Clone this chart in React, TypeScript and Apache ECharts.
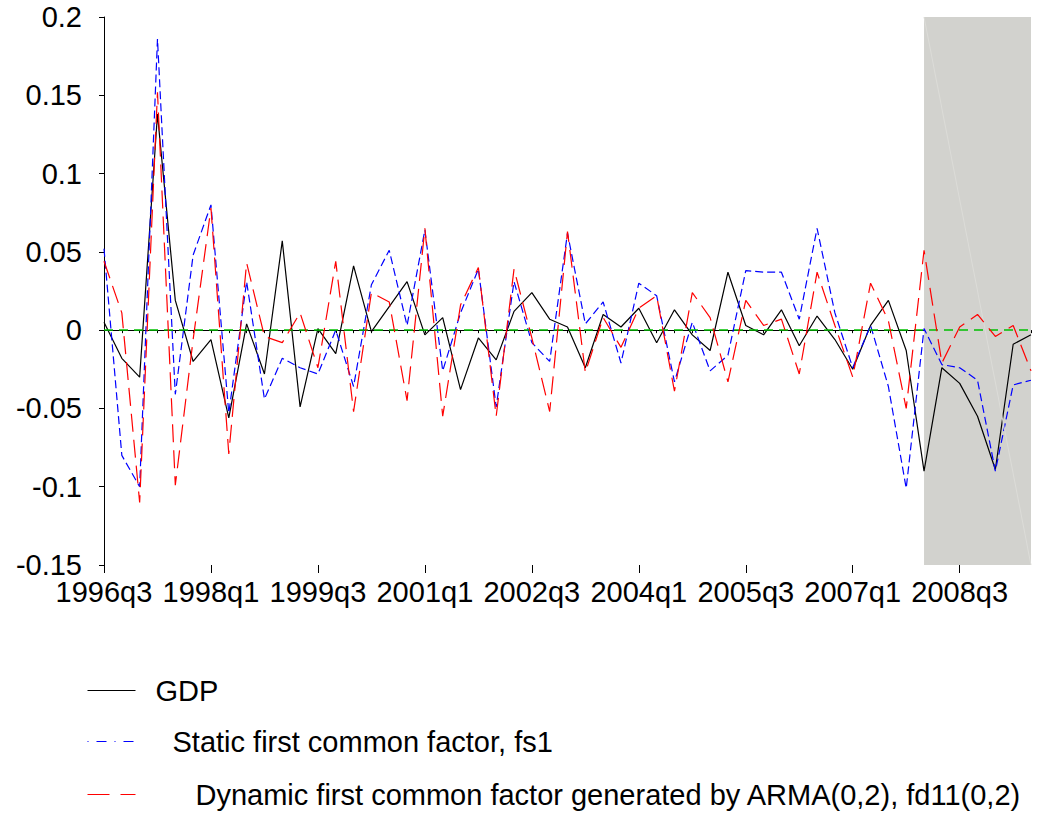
import React, { useEffect, useRef } from 'react';
import * as echarts from 'echarts';

const quarters = [
  '1996q3', '1996q4',
  '1997q1', '1997q2', '1997q3', '1997q4',
  '1998q1', '1998q2', '1998q3', '1998q4',
  '1999q1', '1999q2', '1999q3', '1999q4',
  '2000q1', '2000q2', '2000q3', '2000q4',
  '2001q1', '2001q2', '2001q3', '2001q4',
  '2002q1', '2002q2', '2002q3', '2002q4',
  '2003q1', '2003q2', '2003q3', '2003q4',
  '2004q1', '2004q2', '2004q3', '2004q4',
  '2005q1', '2005q2', '2005q3', '2005q4',
  '2006q1', '2006q2', '2006q3', '2006q4',
  '2007q1', '2007q2', '2007q3', '2007q4',
  '2008q1', '2008q2', '2008q3', '2008q4',
  '2009q1', '2009q2', '2009q3',
];

const gdp = [
  0.005, -0.018, -0.030, 0.138, 0.019, -0.020, -0.006, -0.056, 0.004, -0.028,
  0.057, -0.049, 0.001, -0.015, 0.041, -0.001, 0.015, 0.031, -0.003, 0.008,
  -0.038, -0.005, -0.019, 0.012, 0.024, 0.007, 0.002, -0.024, 0.010, 0.002,
  0.014, -0.008, 0.013, -0.003, -0.013, 0.037, 0.003, -0.003, 0.013, -0.010,
  0.009, -0.006, -0.025, 0.003, 0.019, -0.013, -0.090, -0.024, -0.034, -0.055,
  -0.089, -0.009, -0.003,
];

const fs1 = [
  0.052, -0.080, -0.100, 0.186, -0.041, 0.048, 0.080, -0.053, 0.031, -0.044,
  -0.018, -0.024, -0.028, 0.000, -0.036, 0.029, 0.051, 0.003, 0.064, -0.026,
  0.011, 0.039, -0.049, 0.031, -0.008, -0.020, 0.062, 0.004, 0.018, -0.021,
  0.030, 0.022, -0.033, 0.005, -0.026, -0.016, 0.038, 0.037, 0.037, 0.007,
  0.065, 0.011, -0.024, 0.003, -0.036, -0.101, 0.001, -0.022, -0.024, -0.032,
  -0.090, -0.035, -0.032,
];

const fd11 = [
  0.044, 0.011, -0.110, 0.152, -0.099, -0.006, 0.078, -0.079, 0.043, -0.004,
  -0.008, 0.011, -0.024, 0.044, -0.052, 0.024, 0.018, -0.045, 0.065, -0.055,
  0.016, 0.040, -0.055, 0.039, -0.005, -0.052, 0.063, -0.027, 0.008, -0.011,
  0.014, 0.022, -0.039, 0.024, 0.008, -0.033, 0.019, 0.003, 0.007, -0.028,
  0.037, 0.003, -0.030, 0.030, 0.006, -0.050, 0.051, -0.021, 0.002, 0.010,
  -0.004, 0.003, -0.026,
];

const seriesNames = [
  'GDP',
  'Static first common factor, fs1',
  'Dynamic first common factor generated by ARMA(0,2), fd11(0,2)',
];

const shadeStart = '2008q1';
const shadeEnd = '2009q3';
const yMin = -0.15;
const yMax = 0.2;
const yStep = 0.05;

export default function App() {
  const ref = useRef<HTMLDivElement>(null);

  useEffect(() => {
    const chart = echarts.init(ref.current!, null, { renderer: 'svg' });
    const font = "'Liberation Sans', Arial, Helvetica, sans-serif";
    const fs = 29;

    const legendBase = {
      left: 87,
      itemWidth: 48,
      itemHeight: 14,
      padding: 0,
      selectedMode: false,
      itemStyle: { opacity: 0, borderWidth: 0 },
    };

    chart.setOption({
      animation: false,
      backgroundColor: '#ffffff',
      grid: { left: 104, right: 8, top: 17, bottom: 248, containLabel: false },
      legend: [
        {
          ...legendBase,
          top: 676,
          data: [seriesNames[0]],
          lineStyle: { type: 'solid', width: 1, color: '#000000' },
          textStyle: { fontSize: fs, color: '#000', fontFamily: font, padding: [0, 0, 0, 15] },
        },
        {
          ...legendBase,
          top: 727,
          data: [seriesNames[1]],
          lineStyle: { type: [1, 8, 10, 8], width: 1, color: '#0000ff' },
          textStyle: { fontSize: fs, color: '#000', fontFamily: font, padding: [0, 0, 0, 32] },
        },
        {
          ...legendBase,
          top: 780,
          data: [seriesNames[2]],
          lineStyle: { type: [22, 11], width: 1, color: '#ff0000' },
          textStyle: { fontSize: fs, color: '#000', fontFamily: font, padding: [0, 0, 0, 55] },
        },
      ],
      xAxis: [
        {
          type: 'category',
          data: quarters,
          boundaryGap: false,
          position: 'bottom',
          axisLine: { show: true, lineStyle: { color: '#000', width: 1 } },
          axisTick: { show: true, interval: 0, length: 3, lineStyle: { color: '#000' } },
          axisLabel: {
            interval: 5,
            fontSize: fs,
            color: '#000',
            fontFamily: font,
            margin: 12,
          },
          splitLine: { show: false },
        },
        {
          type: 'category',
          data: quarters,
          boundaryGap: false,
          position: 'bottom',
          axisLine: { show: false },
          axisTick: { show: true, interval: 5, length: 8, lineStyle: { color: '#000' } },
          axisLabel: { show: false },
          splitLine: { show: false },
        },
      ],
      yAxis: {
        type: 'value',
        min: yMin,
        max: yMax,
        interval: yStep,
        axisLine: { show: true, lineStyle: { color: '#000', width: 1 } },
        axisTick: { show: true, length: 5, lineStyle: { color: '#000' } },
        axisLabel: {
          fontSize: fs,
          color: '#000',
          fontFamily: font,
          margin: 22,
          formatter: (v: number) => String(parseFloat(v.toFixed(2))),
        },
        splitLine: { show: false },
      },
      series: [
        {
          name: 'reference',
          type: 'line',
          data: [],
          z: 1,
          silent: true,
          symbol: 'none',
          markArea: {
            silent: true,
            itemStyle: { color: '#d2d2ce' },
            data: [[{ xAxis: shadeStart }, { xAxis: shadeEnd }]],
          },
          markLine: {
            silent: true,
            symbol: 'none',
            label: { show: false },
            lineStyle: { color: '#00c000', type: [9, 6], width: 1.5 },
            data: [
              { yAxis: 0 },
              [
                { coord: [shadeStart, yMax], lineStyle: { color: '#dcdcd8', width: 1, type: 'solid' } },
                { coord: [shadeEnd, yMin] },
              ],
            ],
          },
        },
        {
          name: seriesNames[0],
          type: 'line',
          data: gdp,
          symbol: 'none',
          z: 3,
          itemStyle: { color: '#000000' },
          lineStyle: { color: '#000000', width: 1.2 },
        },
        {
          name: seriesNames[1],
          type: 'line',
          data: fs1,
          symbol: 'none',
          z: 4,
          itemStyle: { color: '#0000ff' },
          lineStyle: { color: '#0000ff', width: 1.2, type: [8, 4] },
        },
        {
          name: seriesNames[2],
          type: 'line',
          data: fd11,
          symbol: 'none',
          z: 5,
          itemStyle: { color: '#ff0000' },
          lineStyle: { color: '#ff0000', width: 1.2, type: [18, 8] },
        },
      ],
    });

    return () => chart.dispose();
  }, []);

  return (
    <div
      ref={ref}
      style={{ position: 'fixed', left: 0, top: 0, width: 1039, height: 813, background: '#fff' }}
    />
  );
}
